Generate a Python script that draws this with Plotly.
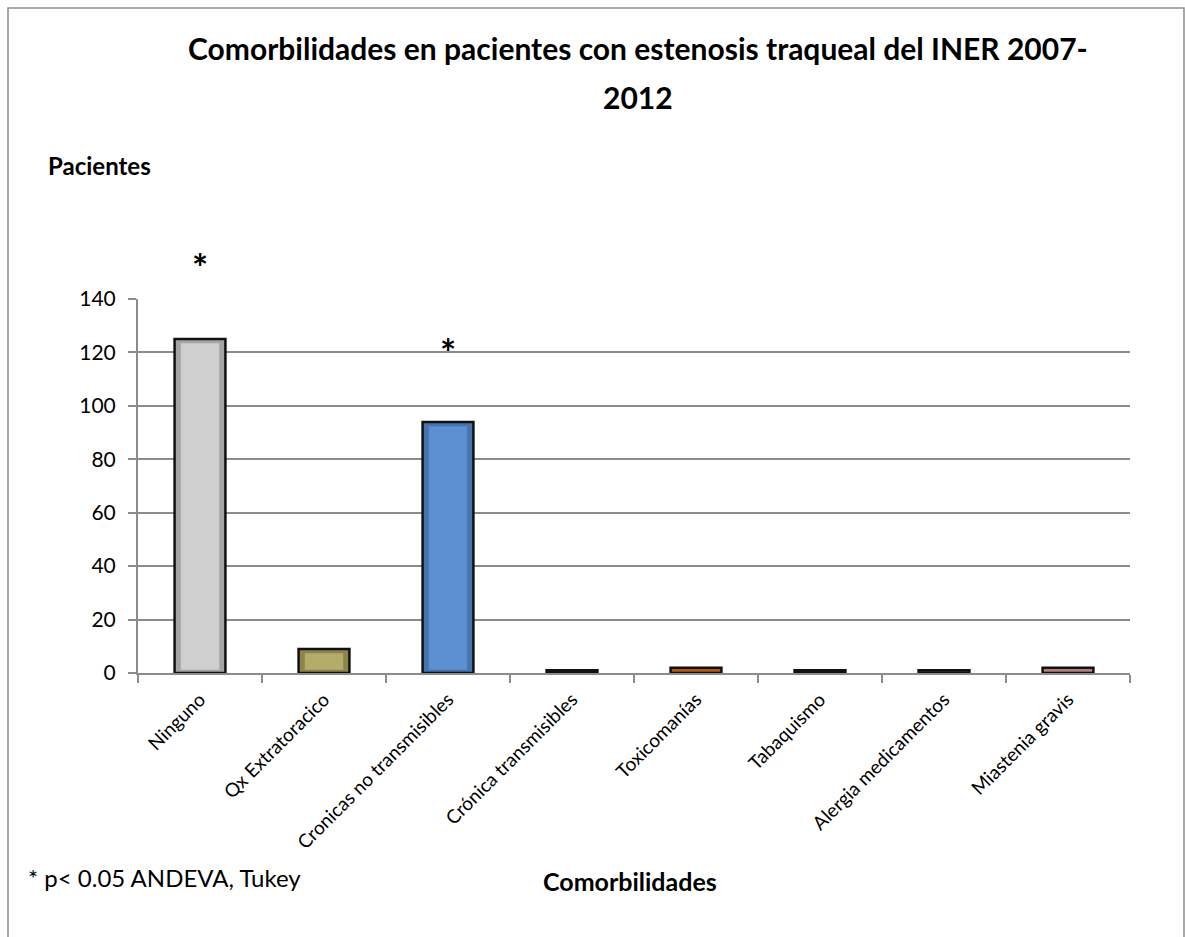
import plotly.graph_objects as go

categories = ["Ninguno", "Qx Extratoracico", "Cronicas no transmisibles", "Crónica transmisibles",
              "Toxicomanías", "Tabaquismo", "Alergia medicamentos", "Miastenia gravis"]
values = [125, 9, 94, 1, 2, 1, 1, 2]
edge_colors = ["#A4A4A4", "#8C844E", "#4673AE", "#1A1A1A", "#B05A14", "#1A1A1A", "#555555", "#B08080"]
inner_colors = ["#CFCFCF", "#B5AC6C", "#5B8FD2", "#1A1A1A", "#C86C22", "#1A1A1A", "#555555", "#C99A9A"]
y_ticks = [0, 20, 40, 60, 80, 100, 120, 140]
star_positions = [("Ninguno", 267), ("Cronicas no transmisibles", 352)]  # pixel y of the asterisks

FONT = "Lato"
L, R, T, B = 138, 55, 299, 264
W, H = 1185, 937
pw, ph = W - L - R, H - T - B

def px(x):
    return (x - L) / pw

def py(y):
    return (H - B - y) / ph

fig = go.Figure()
fig.add_trace(go.Bar(
    x=categories, y=values,
    marker=dict(color=edge_colors, line=dict(color="#111111", width=2.5)),
    width=0.41, hoverinfo="skip",
))
# lighter inner face to mimic the bevelled bars
inner_vals = [max(v - 1.6, 0) if v > 5 else 0 for v in values]
inner_base = [1.2 if v > 5 else 0 for v in values]
fig.add_trace(go.Bar(
    x=categories, y=[iv - ib for iv, ib in zip(inner_vals, inner_base)], base=inner_base,
    marker=dict(color=inner_colors, line=dict(width=0)),
    width=0.31,
))

for i, (cat, ypix) in enumerate(star_positions):
    fig.add_annotation(x=cat, y=py(ypix), xref="x", yref="paper", text="<b>*</b>", showarrow=False,
                       yanchor="middle", font=dict(family=FONT, size=38, color="#000000"))

annots = [
    dict(x=px(638), y=py(48), text="<b>Comorbilidades en pacientes con estenosis traqueal del INER 2007-</b>", size=30, xa="center"),
    dict(x=px(638), y=py(97), text="<b>2012</b>", size=30, xa="center"),
    dict(x=px(99), y=py(166), text="<b>Pacientes</b>", size=24, xa="center"),
    dict(x=px(630), y=py(881), text="<b>Comorbilidades</b>", size=25, xa="center"),
    dict(x=px(26), y=py(877), text="* p< 0.05 ANDEVA, Tukey", size=24, xa="left"),
]
for a in annots:
    fig.add_annotation(x=a["x"], y=a["y"], xref="paper", yref="paper", text=a["text"],
                       showarrow=False, xanchor=a["xa"], yanchor="middle",
                       font=dict(family=FONT, size=a["size"], color="#000000"))

# chart border
fig.add_shape(type="rect", xref="paper", yref="paper",
              x0=px(8), x1=px(1184), y0=py(945), y1=py(8),
              line=dict(color="#8C8C8C", width=1.5), fillcolor="rgba(0,0,0,0)", layer="below")

fig.update_layout(
    width=W, height=H,
    margin=dict(l=L, r=R, t=T, b=B, pad=0),
    paper_bgcolor="white", plot_bgcolor="white",
    showlegend=False, barmode="overlay",
    font=dict(family=FONT, color="#000000"),
)
fig.update_xaxes(
    tickangle=-45, tickfont=dict(family=FONT, size=19, color="#000000"),
    ticklabelstandoff=6,
    showline=True, linecolor="#8C8C8C", linewidth=2,
    ticks="outside", tickson="boundaries", ticklen=8, tickcolor="#8C8C8C", tickwidth=2,
    showgrid=False,
)
fig.update_yaxes(
    range=[0, 140], tickvals=y_ticks,
    tickfont=dict(family=FONT, size=21, color="#000000"),
    ticklabelstandoff=8,
    showline=True, linecolor="#8C8C8C", linewidth=2,
    ticks="outside", ticklen=8, tickcolor="#8C8C8C", tickwidth=2,
    showgrid=True, gridcolor="#8C8C8C", gridwidth=2,
    zeroline=False,
)

fig.write_html("out.html")
